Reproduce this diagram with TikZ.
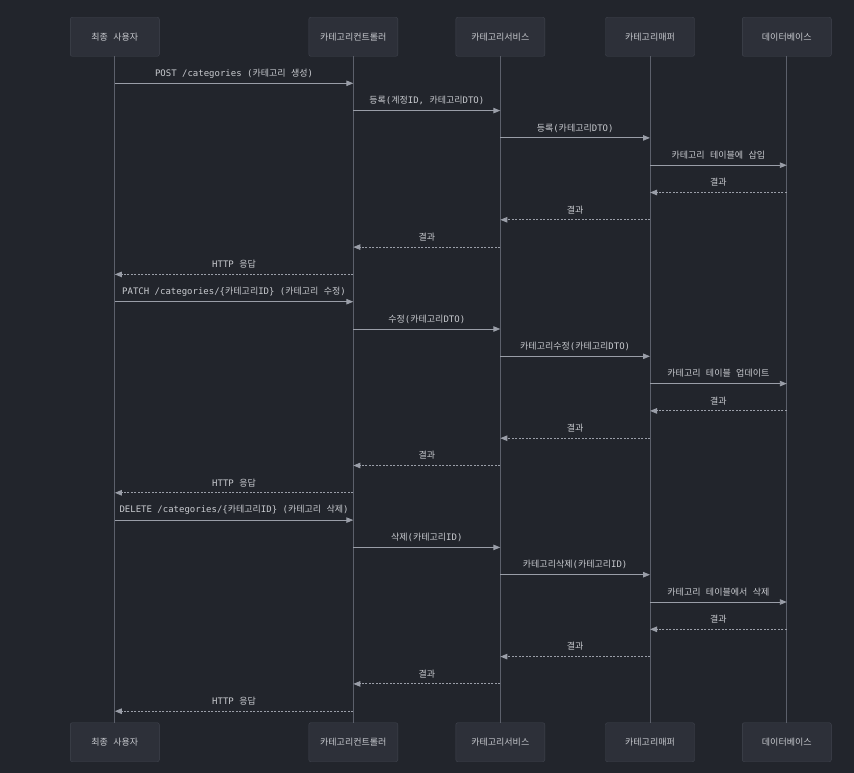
\documentclass[tikz,border=0pt]{standalone}
\usepackage{fontspec}
\setmainfont{DejaVu Sans Mono}
\newfontfamily\kr{Noto Sans CJK KR}
\usetikzlibrary{arrows.meta}
\definecolor{bg}{HTML}{22252C}
\definecolor{boxfill}{HTML}{2D3039}
\definecolor{boxline}{HTML}{41454F}
\definecolor{lifec}{HTML}{5C606B}
\definecolor{msgc}{HTML}{9A9EA8}
\definecolor{txt}{HTML}{C8CACF}
\tikzset{
  actor/.style={draw=boxline, fill=boxfill, rounded corners=2pt, minimum width=89pt, minimum height=39pt, inner sep=0pt, text=txt, font=\fontsize{9}{10}\selectfont},
  life/.style={draw=lifec, line width=1pt},
  sync/.style={draw=msgc, line width=0.9pt, -{Triangle[length=7pt,width=5.5pt]}},
  reply/.style={draw=msgc, line width=0.9pt, dash pattern=on 2pt off 1.5pt, -{Triangle[length=7pt,width=5.5pt]}},
  lbl/.style={text=txt, font=\fontsize{9}{10}\selectfont, inner sep=0pt, yshift=10pt}
}
\newcommand\K[1]{{\kr #1}}
\newcommand\msg[5]{%
  \coordinate (row) at (0,#3);
  \draw[#5] (#1 |- row) -- node[lbl]{#4} (#2 |- row);}
\begin{document}
\begin{tikzpicture}[x=1pt,y=-1pt]
\fill[bg] (0,0) rectangle (854,773);
\useasboundingbox (0,0) rectangle (854,773);
% actors top
\node[actor] (u) at (114.8,36.8) {\K{최종} \K{사용자}};
\node[actor] (c) at (353.3,36.8) {\K{카테고리컨트롤러}};
\node[actor] (s) at (500.3,36.8) {\K{카테고리서비스}};
\node[actor] (m) at (650,36.8) {\K{카테고리매퍼}};
\node[actor] (d) at (786.8,36.8) {\K{데이터베이스}};
% actors bottom
\node[actor] (ub) at (114.8,742.2) {\K{최종} \K{사용자}};
\node[actor] (cb) at (353.3,742.2) {\K{카테고리컨트롤러}};
\node[actor] (sb) at (500.3,742.2) {\K{카테고리서비스}};
\node[actor] (mb) at (650,742.2) {\K{카테고리매퍼}};
\node[actor] (db) at (786.8,742.2) {\K{데이터베이스}};
% lifelines
\draw[life] (u.south) -- (ub.north);
\draw[life] (c.south) -- (cb.north);
\draw[life] (s.south) -- (sb.north);
\draw[life] (m.south) -- (mb.north);
\draw[life] (d.south) -- (db.north);
% create
\msg{u}{c}{83.3}{POST /categories (\K{카테고리} \K{생성})}{sync}
\msg{c}{s}{110.6}{\K{등록}(\K{계정}ID, \K{카테고리}DTO)}{sync}
\msg{s}{m}{137.9}{\K{등록}(\K{카테고리}DTO)}{sync}
\msg{m}{d}{165.2}{\K{카테고리} \K{테이블에} \K{삽입}}{sync}
\msg{d}{m}{192.5}{\K{결과}}{reply}
\msg{m}{s}{219.8}{\K{결과}}{reply}
\msg{s}{c}{247.1}{\K{결과}}{reply}
\msg{c}{u}{274.4}{HTTP \K{응답}}{reply}
% update
\msg{u}{c}{301.7}{PATCH /categories/\{\K{카테고리}ID\} (\K{카테고리} \K{수정})}{sync}
\msg{c}{s}{329}{\K{수정}(\K{카테고리}DTO)}{sync}
\msg{s}{m}{356.3}{\K{카테고리수정}(\K{카테고리}DTO)}{sync}
\msg{m}{d}{383.6}{\K{카테고리} \K{테이블} \K{업데이트}}{sync}
\msg{d}{m}{410.9}{\K{결과}}{reply}
\msg{m}{s}{438.2}{\K{결과}}{reply}
\msg{s}{c}{465.5}{\K{결과}}{reply}
\msg{c}{u}{492.8}{HTTP \K{응답}}{reply}
% delete
\msg{u}{c}{520.1}{DELETE /categories/\{\K{카테고리}ID\} (\K{카테고리} \K{삭제})}{sync}
\msg{c}{s}{547.4}{\K{삭제}(\K{카테고리}ID)}{sync}
\msg{s}{m}{574.7}{\K{카테고리삭제}(\K{카테고리}ID)}{sync}
\msg{m}{d}{602}{\K{카테고리} \K{테이블에서} \K{삭제}}{sync}
\msg{d}{m}{629.3}{\K{결과}}{reply}
\msg{m}{s}{656.6}{\K{결과}}{reply}
\msg{s}{c}{683.9}{\K{결과}}{reply}
\msg{c}{u}{711.2}{HTTP \K{응답}}{reply}
\end{tikzpicture}
\end{document}
